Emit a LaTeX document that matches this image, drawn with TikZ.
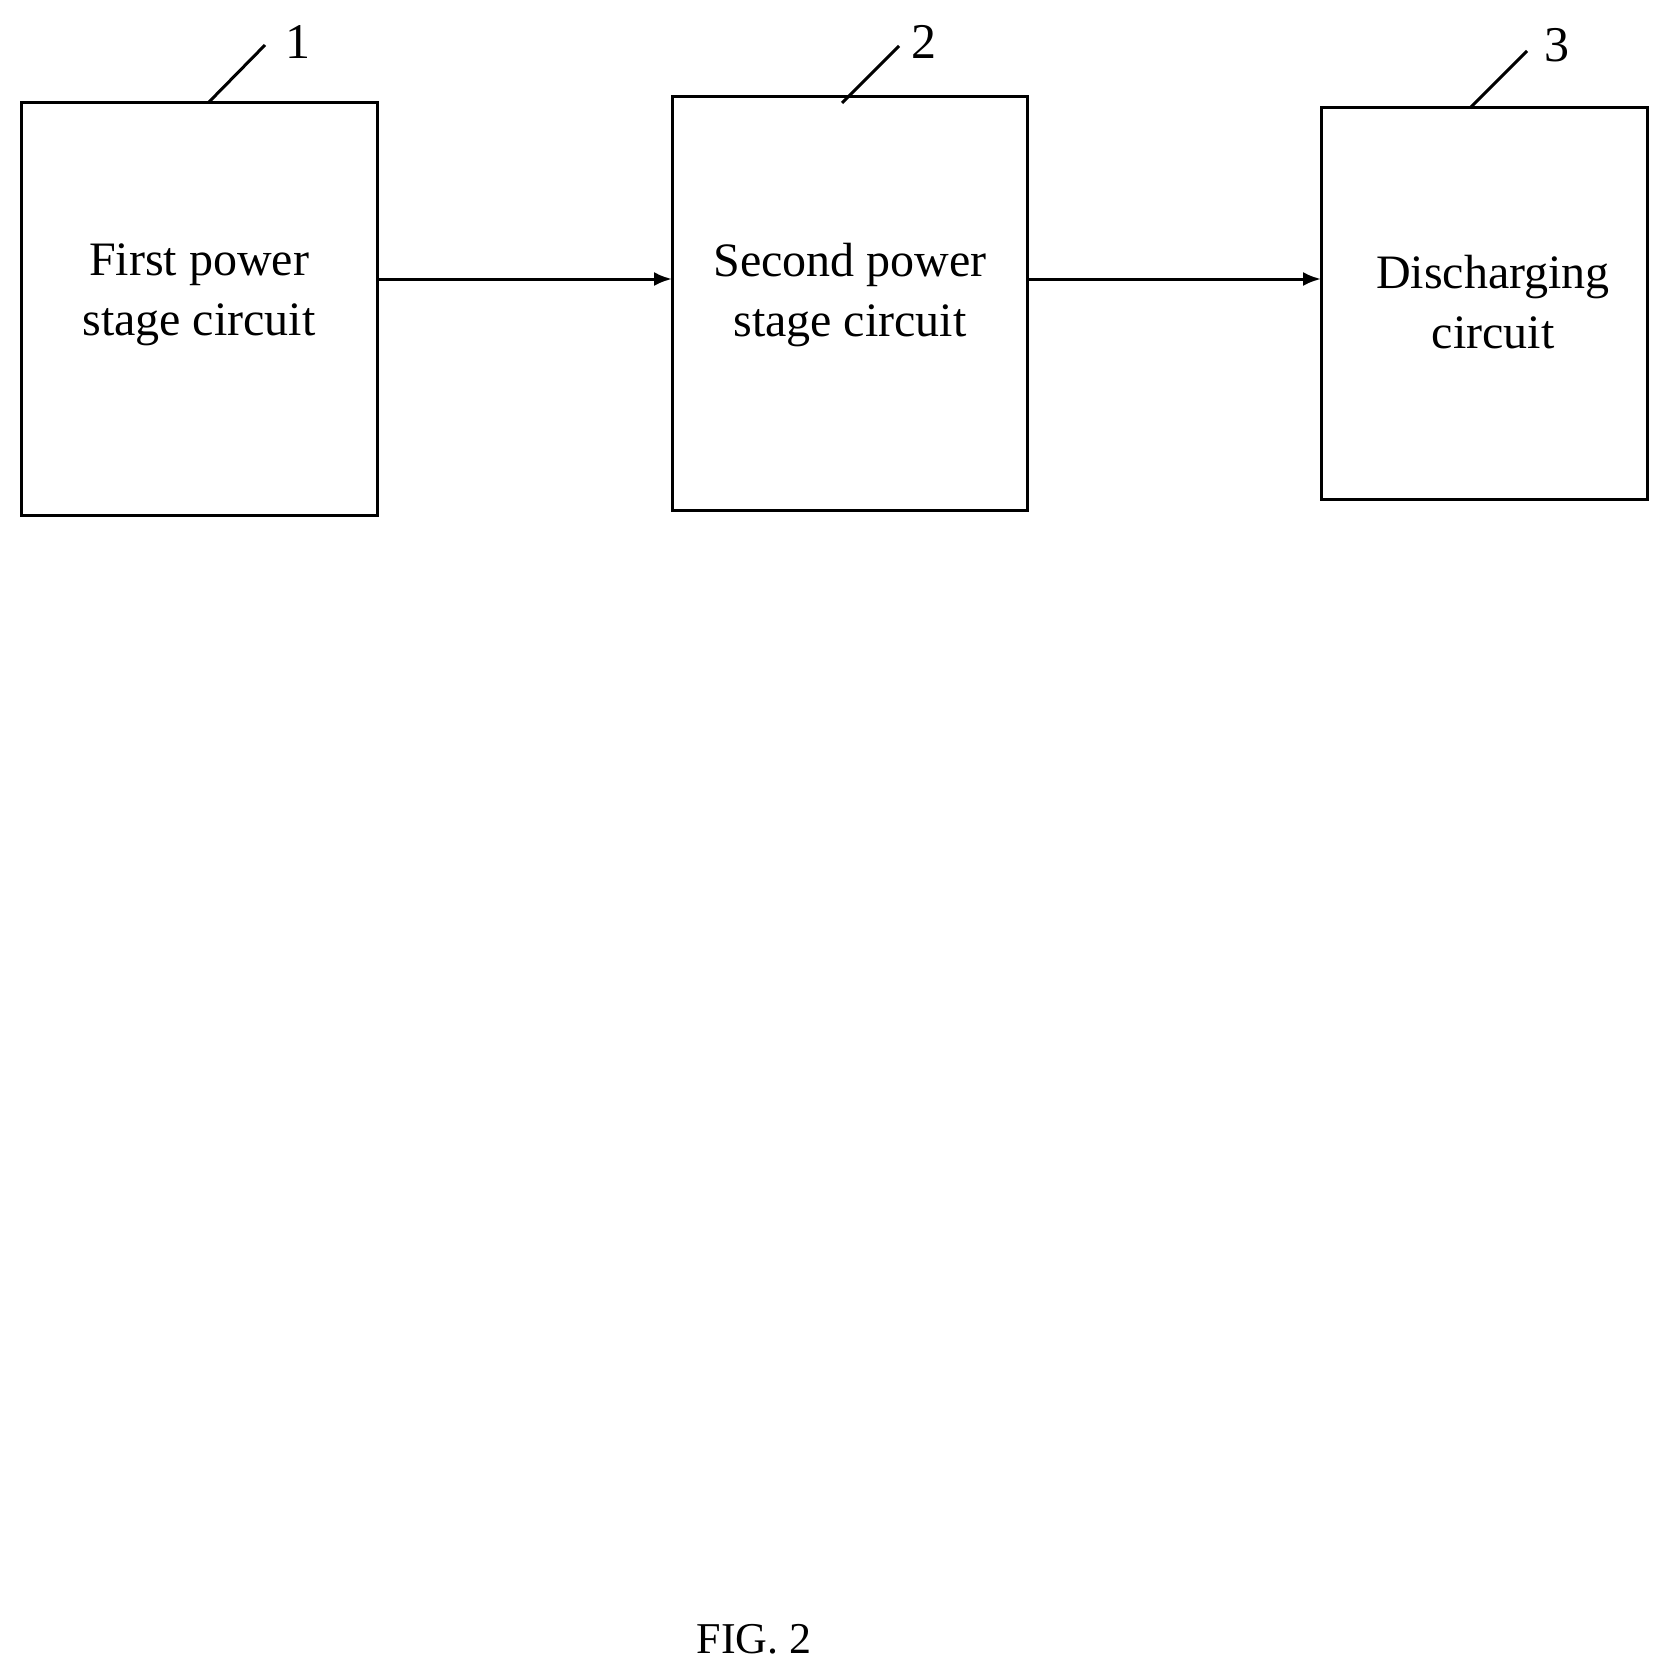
\documentclass[tikz,border=0pt]{standalone}
\usepackage{fontspec}
\setmainfont{Liberation Serif}
\usetikzlibrary{arrows.meta}
\begin{document}
\begin{tikzpicture}[x=1pt,y=-1pt,line width=3pt,
  box/.style={draw,rectangle,minimum width=#1},
  txt/.style={font=\fontsize{48}{60}\selectfont,align=center},
  arr/.style={-{Latex[length=18pt,width=14pt]}},
  lbl/.style={font=\fontsize{50}{60}\selectfont}]
\useasboundingbox (0,0) rectangle (1670,1678);
\draw (21,102) rectangle (377,515);
\draw (672,96) rectangle (1027,510);
\draw (1321,107) rectangle (1647,499);
\coordinate (b1e) at (377,279);
\coordinate (b2w) at (672,279);
\coordinate (b2e) at (1027,279);
\coordinate (b3w) at (1321,279);
\draw[arr] (b1e) -- (b2w);
\draw[arr] (b2e) -- (b3w);
\node[txt] (t1) at (199,295) {First power\\stage circuit};
\node[txt] (t2) at (850,295) {Second power\\stage circuit};
\node[txt] (t3) at (1493,302) {Discharging\\circuit};
\coordinate (l1a) at (209,102); \coordinate (l1b) at (265,45);
\coordinate (l2a) at (842,103); \coordinate (l2b) at (899,46);
\coordinate (l3a) at (1470,108); \coordinate (l3b) at (1527,51);
\draw (l1a) -- (l1b); \draw (l2a) -- (l2b); \draw (l3a) -- (l3b);
\node[lbl] (n1) at (298,42) {1};
\node[lbl] (n2) at (924,42) {2};
\node[lbl] (n3) at (1557,45) {3};
\node[lbl,font=\fontsize{44}{50}\selectfont] (fig) at (754,1639) {FIG. 2};
\end{tikzpicture}
\end{document}
